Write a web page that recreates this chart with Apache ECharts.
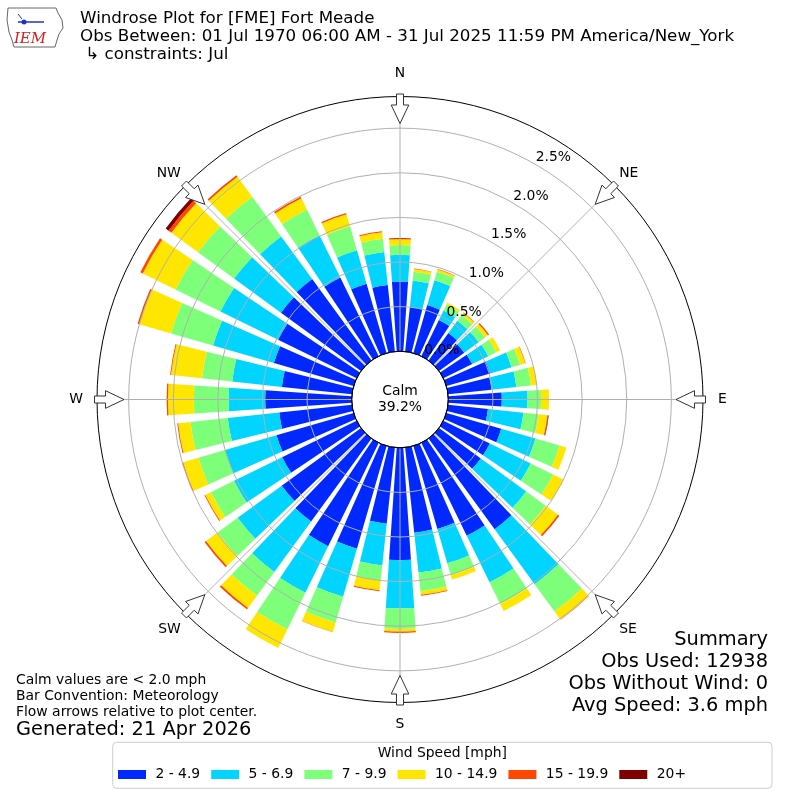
<!DOCTYPE html>
<html>
<head>
<meta charset="utf-8">
<script src="https://cdn.jsdelivr.net/npm/echarts@6/dist/echarts.min.js"></script>
<style>
html,body{margin:0;padding:0;background:#fff;}
#chart{width:800px;height:800px;}
</style>
</head>
<body>
<div id="chart"></div>
<script>
// ---- data (percent of observations) ----
const directions = ['0°','10°','20°','30°','40°','50°','60°','70°','80°','90°','100°','110°',
  '120°','130°','140°','150°','160°','170°','180°','190°','200°','210°','220°','230°',
  '240°','250°','260°','270°','280°','290°','300°','310°','320°','330°','340°','350°'];
const speedBins = ['2 - 4.9','5 - 6.9','7 - 9.9','10 - 14.9','15 - 19.9','20+'];
const bin_2_4_9 = [0.78,0.50,0.56,0.45,0.38,0.35,0.36,0.51,0.49,0.60,0.45,0.64,
  0.58,0.58,1.26,1.16,0.97,0.96,1.26,0.86,1.20,1.29,1.15,1.10,
  0.93,0.90,0.82,0.97,0.79,0.93,0.98,1.11,1.13,0.98,0.81,0.75];
const bin_5_6_9 = [0.30,0.30,0.29,0.12,0.17,0.20,0.20,0.25,0.28,0.29,0.40,0.40,
  0.51,0.63,0.76,0.58,0.40,0.45,0.54,0.47,0.56,0.58,0.70,0.61,
  0.60,0.60,0.58,0.41,0.56,0.71,0.72,0.65,0.59,0.53,0.39,0.37];
const bin_7_9_9 = [0.11,0.10,0.10,0.07,0.08,0.09,0.10,0.10,0.165,0.15,0.17,0.28,
  0.28,0.27,0.38,0.27,0.14,0.21,0.23,0.17,0.30,0.46,0.33,0.28,
  0.29,0.31,0.42,0.39,0.34,0.49,0.56,0.50,0.55,0.32,0.28,0.15];
const bin_10_14_9 = [0.065,0.03,0.025,0.025,0.03,0.04,0.05,0.06,0.065,0.09,0.10,0.08,
  0.13,0.17,0.11,0.09,0.05,0.04,0.03,0.11,0.11,0.23,0.17,0.16,
  0.07,0.18,0.14,0.29,0.35,0.37,0.41,0.37,0.28,0.14,0.14,0.075];
const bin_15_19_9 = [0.015,0.005,0.005,0,0.005,0.015,0,0.005,0,0,0.01,0,
  0,0.02,0.005,0,0,0.01,0.015,0.01,0.005,0,0.02,0.02,
  0.01,0.01,0.01,0.015,0.01,0.02,0.03,0.04,0.02,0.02,0.015,0.01];
const bin_20_plus = [0,0,0,0,0,0,0,0,0,0,0.005,0,
  0,0,0,0,0,0,0,0,0,0,0,0,
  0,0,0,0,0,0,0,0.04,0,0,0,0];
const compassLabels = ['N','NE','E','SE','S','SW','W','NW'];
const radiusMax = 2.855;

// ---- styling ----
const FONT = '"DejaVu Sans", "Liberation Sans", sans-serif';
const colors = ['#0028ff','#00d4ff','#7dff7a','#ffe600','#ff4700','#800000'];
const CX = 400, CY = 399.5, R0 = 48.3, R1 = 303;
const GRID = '#b0b0b0';

const binData = [bin_2_4_9, bin_5_6_9, bin_7_9_9, bin_10_14_9, bin_15_19_9, bin_20_plus];
const series = binData.map((d, i) => ({
  name: speedBins[i],
  type: 'bar',
  coordinateSystem: 'polar',
  polarIndex: 0,
  stack: 'speed',
  barCategoryGap: '22%',
  itemStyle: { color: colors[i] },
  emphasis: { disabled: true },
  data: d
}));

// compass arrows (decoration), pointing inward across the outer circle
const arrowLocal = [[305.5,-3.5],[294.5,-3.5],[294.5,-8.8],[276,0],[294.5,8.8],[294.5,3.5],[305.5,3.5]];
const graphics = [];
for (let k = 0; k < 8; k++) {
  const b = k * 45 * Math.PI / 180;
  const ux = Math.sin(b), uy = -Math.cos(b), vx = Math.cos(b), vy = Math.sin(b);
  const pts = arrowLocal.map(([r, t]) => [CX + r * ux + t * vx, CY + r * uy + t * vy]);
  graphics.push({ type: 'polygon', z: 100, shape: { points: pts },
    style: { fill: '#fff', stroke: '#333', lineWidth: 1 } });
}
function txt(text, x, y, size, align, valign, extra) {
  return Object.assign({ type: 'text', z: 100, x: x, y: y,
    style: { text: text, font: size + 'px ' + FONT, fill: '#000',
      align: align, verticalAlign: valign, textAlign: align, textVerticalAlign: valign } }, extra || {});
}
// title
graphics.push(txt('Windrose Plot for [FME] Fort Meade', 80, 19, 16.7, 'left', 'middle'));
graphics.push(txt('Obs Between: 01 Jul 1970 06:00 AM - 31 Jul 2025 11:59 PM America/New_York', 80, 37, 16.7, 'left', 'middle'));
graphics.push(txt(' \u21b3 constraints: Jul', 80, 55, 16.7, 'left', 'middle'));
// calm
graphics.push(txt('Calm', CX, 391, 13.9, 'center', 'middle'));
graphics.push(txt('39.2%', CX, 407.5, 13.9, 'center', 'middle'));
// summary
graphics.push(txt('Summary', 768, 640, 19.4, 'right', 'middle'));
graphics.push(txt('Obs Used: 12938', 768, 662, 19.4, 'right', 'middle'));
graphics.push(txt('Obs Without Wind: 0', 768, 684, 19.4, 'right', 'middle'));
graphics.push(txt('Avg Speed: 3.6 mph', 768, 706, 19.4, 'right', 'middle'));
// notes
graphics.push(txt('Calm values are < 2.0 mph', 16, 680, 13.9, 'left', 'middle'));
graphics.push(txt('Bar Convention: Meteorology', 16, 696, 13.9, 'left', 'middle'));
graphics.push(txt('Flow arrows relative to plot center.', 16, 712, 13.9, 'left', 'middle'));
graphics.push(txt('Generated: 21 Apr 2026', 16, 729.5, 19.4, 'left', 'middle'));
// legend frame + title
graphics.push({ type: 'rect', z: 1, shape: { x: 112.7, y: 742.3, width: 659.3, height: 46, r: 4 },
  style: { fill: '#fff', stroke: '#cccccc', lineWidth: 1 } });
graphics.push(txt('Wind Speed [mph]', 442.3, 753, 13.9, 'center', 'middle', { z: 2 }));
// IEM logo (approximate)
graphics.push({ type: 'polyline', z: 50, shape: { points: [[8,8],[56,8],[58,13],[62,20],[63,28],[59,34],[57,40],[55,47],[14,47],[12,40],[9,32],[7,20],[8,8]] },
  style: { stroke: '#666', lineWidth: 1, fill: 'none' } });
graphics.push({ type: 'line', z: 51, shape: { x1: 18, y1: 22, x2: 44, y2: 22 }, style: { stroke: '#2233cc', lineWidth: 1.5 } });
graphics.push({ type: 'circle', z: 51, shape: { cx: 24, cy: 22, r: 2.5 }, style: { fill: '#2233cc' } });
graphics.push({ type: 'line', z: 51, shape: { x1: 18, y1: 14, x2: 22, y2: 19 }, style: { stroke: '#2233cc', lineWidth: 1 } });
graphics.push({ type: 'text', z: 51, x: 30, y: 39,
  style: { text: 'IEM', font: 'italic 15px "DejaVu Serif", serif', fill: '#d42020',
    align: 'center', verticalAlign: 'middle', textAlign: 'center', textVerticalAlign: 'middle' } });

// per-label rich keys: labels get padding on their inner side
const compassRich = ['n','d','e','b','s','b','w','d'];
const labelBase = { fontSize: 13.9, color: '#000', fontFamily: FONT };

const option = {
  animation: false,
  backgroundColor: '#fff',
  textStyle: { fontFamily: FONT },
  polar: [
    { center: [CX, CY], radius: [R0, R1] },
    { center: [CX, CY], radius: [R0, R1] },
    { center: [CX, CY], radius: [R0, R1] }
  ],
  angleAxis: [
    { polarIndex: 0, type: 'category', data: directions, startAngle: 95, clockwise: true,
      boundaryGap: true, axisLine: { show: false }, axisTick: { show: false },
      axisLabel: { show: false }, splitLine: { show: false } },
    { polarIndex: 1, type: 'value', min: 0, max: 360, interval: 45, startAngle: 90, clockwise: true,
      z: 6,
      axisLine: { show: true, lineStyle: { color: '#000', width: 1 } },
      axisTick: { show: false },
      axisLabel: { show: true, margin: 7,
        fontSize: 13.9, color: '#000', fontFamily: FONT,
        formatter: v => {
          if (v >= 360) return '';
          const k = Math.round(v / 45);
          return '{' + compassRich[k] + '|' + compassLabels[k] + '}';
        },
        rich: {
          d: Object.assign({}, labelBase),
          b: Object.assign({ padding: [4, 0, 0, 0] }, labelBase),
          n: Object.assign({ padding: [0, 0, 9, 0] }, labelBase),
          s: Object.assign({ padding: [8, 0, 0, 0] }, labelBase),
          e: Object.assign({ padding: [0, 0, 0, 8] }, labelBase),
          w: Object.assign({ padding: [0, 7, 0, 0] }, labelBase)
        } },
      splitLine: { show: true, lineStyle: { color: GRID, width: 1 } } },
    { polarIndex: 2, type: 'value', min: 0, max: 360, startAngle: 60, clockwise: true, show: false }
  ],
  radiusAxis: [
    { polarIndex: 0, type: 'value', min: 0, max: radiusMax, interval: 0.5, z: 5,
      axisLine: { show: false }, axisTick: { show: false }, axisLabel: { show: false },
      splitLine: { show: true, lineStyle: { width: 1,
        color: ['#000', GRID, GRID, GRID, GRID, GRID, 'rgba(0,0,0,0)'] } } },
    { polarIndex: 1, type: 'value', min: 0, max: radiusMax, show: false },
    { polarIndex: 2, type: 'value', min: 0, max: radiusMax, interval: 0.5, z: 7,
      axisLine: { show: false }, axisTick: { show: false }, splitLine: { show: false },
      axisLabel: { show: true, margin: 0, align: 'left', verticalAlign: 'bottom', showMaxLabel: false,
        fontSize: 13.9, color: '#000', fontFamily: FONT,
        formatter: v => v.toFixed(1) + '%' } }
  ],
  legend: {
    show: true, z: 5, left: 118, top: 767.5, orient: 'horizontal', padding: 0,
    itemWidth: 28, itemHeight: 9, itemGap: 11, icon: 'rect',
    selectedMode: false,
    data: speedBins,
    formatter: n => ' ' + n,
    textStyle: { fontSize: 13.9, color: '#000', fontFamily: FONT }
  },
  graphic: graphics,
  series: series
};

const chart = echarts.init(document.getElementById('chart'), null, { renderer: 'canvas' });
chart.setOption(option);
</script>
</body>
</html>
